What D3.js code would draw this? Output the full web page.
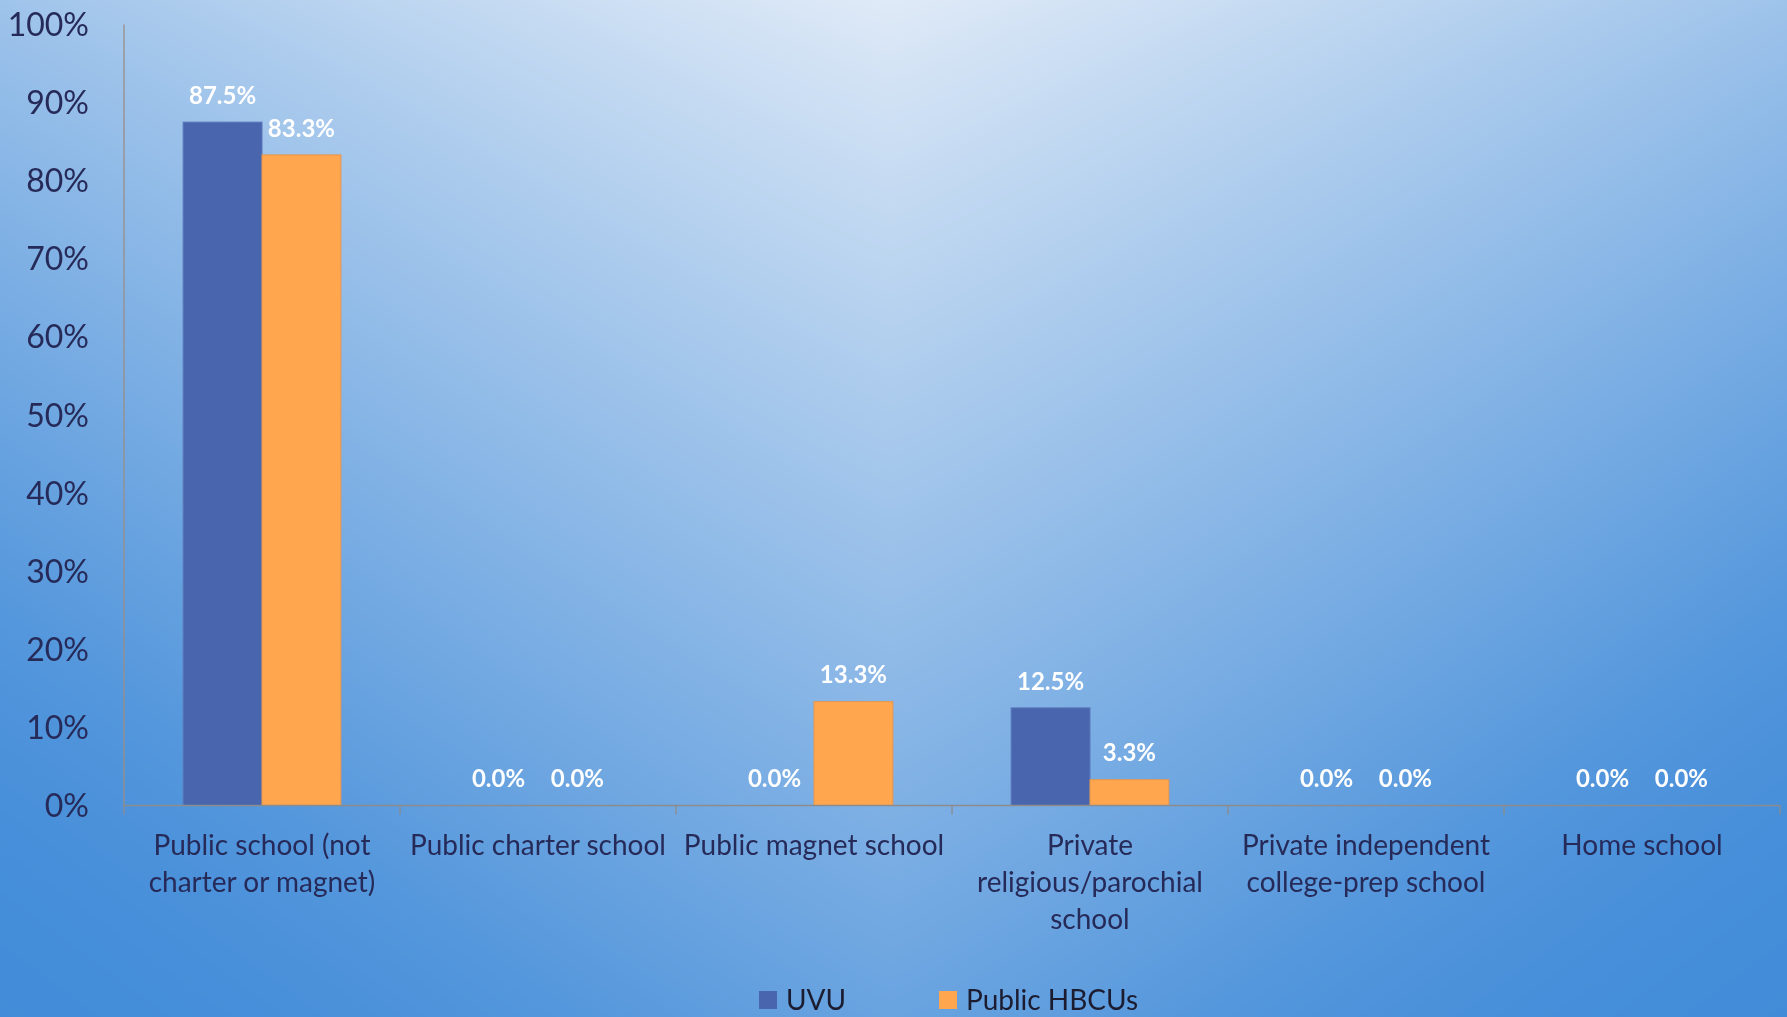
<!DOCTYPE html>
<html>
<head>
<meta charset="utf-8">
<script src="https://cdn.jsdelivr.net/npm/d3@7"></script>
<style>
  html, body { margin: 0; padding: 0; overflow: hidden; }
  #wrap { position: relative; width: 1787px; height: 1017px; }
  #bg, #chart { position: absolute; left: 0; top: 0; }
  text { font-family: Lato, "Open Sans", sans-serif; }
</style>
</head>
<body>
<div id="wrap">
  <canvas id="bg" width="1787" height="1017"></canvas>
  <svg id="chart" width="1787" height="1017"></svg>
</div>
<script>
// School types and the share of students coming from each
const categories = [
  "Public school (not charter or magnet)",
  "Public charter school",
  "Public magnet school",
  "Private religious/parochial school",
  "Private independent college-prep school",
  "Home school"
];
const categoryLines = [
  ["Public school (not", "charter or magnet)"],
  ["Public charter school"],
  ["Public magnet school"],
  ["Private", "religious/parochial", "school"],
  ["Private independent", "college-prep school"],
  ["Home school"]
];
const seriesNames = ["UVU", "Public HBCUs"];
const uvuValues = [0.875, 0.0, 0.0, 0.125, 0.0, 0.0];
const hbcuValues = [0.833, 0.0, 0.133, 0.033, 0.0, 0.0];
const yTicks = [0, 0.1, 0.2, 0.3, 0.4, 0.5, 0.6, 0.7, 0.8, 0.9, 1.0];
const seriesColors = ["#4865ad", "#ffa64f"];
const seriesStroke = ["#5a78bb", "#e8964a"];

const W = 1787, H = 1017;

// Soft light spot at the top centre fading to a deeper blue toward the edges
(function paintBackground() {
  const cv = document.getElementById("bg");
  const ctx = cv.getContext("2d");
  const img = ctx.createImageData(W, H);
  const c0 = [223, 234, 247], c1 = [58, 135, 215];
  const cx = 890;
  for (let y = 0; y < H; y++) {
    const b = 0.32 * Math.pow(y / 415, 0.9);
    for (let x = 0; x < W; x++) {
      const a = 0.39 * Math.pow(Math.abs(x - cx) / 897, 1.1);
      let s = a + b;
      if (s > 0.8) s = 0.8 + 0.2 * (1 - Math.exp(-(s - 0.8) / 0.2));
      const i = (y * W + x) * 4;
      img.data[i] = c0[0] + (c1[0] - c0[0]) * s;
      img.data[i + 1] = c0[1] + (c1[1] - c0[1]) * s;
      img.data[i + 2] = c0[2] + (c1[2] - c0[2]) * s;
      img.data[i + 3] = 255;
    }
  }
  ctx.putImageData(img, 0, 0);
})();

const svg = d3.select("#chart");
const plot = { left: 124, right: 1780, top: 24.5, bottom: 805.5 };

const x = d3.scaleBand().domain(categories).range([plot.left, plot.right]).padding(0);
const xInner = d3.scaleBand().domain(seriesNames).range([0, x.bandwidth()]).paddingInner(0).paddingOuter(0.75);
const y = d3.scaleLinear().domain([0, 1]).range([plot.bottom, plot.top]);

const rows = categories.map((c, i) => ({ cat: c, vals: [uvuValues[i], hbcuValues[i]] }));

// Y axis line
svg.append("line")
  .attr("x1", plot.left).attr("x2", plot.left)
  .attr("y1", plot.top).attr("y2", plot.bottom)
  .attr("stroke", "#9a8e88").attr("stroke-width", 1.3);

// Y tick labels
svg.append("g").selectAll("text").data(yTicks).join("text")
  .attr("x", 89).attr("y", d => y(d))
  .attr("dy", "0.36em")
  .attr("text-anchor", "end")
  .attr("font-size", 32)
  .attr("fill", "#262a58")
  .text(d => d3.format(".0%")(d));

// Bars
const groups = svg.append("g").selectAll("g").data(rows).join("g")
  .attr("transform", d => `translate(${x(d.cat)},0)`);

groups.selectAll("rect").data(d => d.vals.map((v, j) => ({ v, s: seriesNames[j], j })))
  .join("rect")
  .attr("x", d => xInner(d.s))
  .attr("width", xInner.bandwidth())
  .attr("y", d => y(d.v))
  .attr("height", d => y(0) - y(d.v))
  .attr("fill", d => seriesColors[d.j])
  .attr("stroke", d => d.v > 0 ? seriesStroke[d.j] : "none")
  .attr("stroke-width", 1);

// Value labels
groups.selectAll("text.val").data(d => d.vals.map((v, j) => ({ v, s: seriesNames[j], j })))
  .join("text").attr("class", "val")
  .attr("x", d => xInner(d.s) + xInner.bandwidth() / 2)
  .attr("y", d => y(d.v) - 27)
  .attr("dy", "0.36em")
  .attr("text-anchor", "middle")
  .attr("font-size", 24)
  .attr("font-weight", 700)
  .attr("fill", "#ffffff")
  .text(d => d3.format(".1%")(d.v));

// X axis line and category boundary ticks
svg.append("line")
  .attr("x1", plot.left).attr("x2", plot.right)
  .attr("y1", plot.bottom).attr("y2", plot.bottom)
  .attr("stroke", "#8c8c8c").attr("stroke-width", 1.5);
const bounds = categories.map(c => x(c)).concat([plot.right]);
svg.append("g").selectAll("line").data(bounds).join("line")
  .attr("x1", d => d).attr("x2", d => d)
  .attr("y1", plot.bottom).attr("y2", plot.bottom + 9)
  .attr("stroke", "#8c8c8c").attr("stroke-width", 1.3);

// Category labels
const lab = svg.append("g").selectAll("text").data(categories).join("text")
  .attr("text-anchor", "middle")
  .attr("font-size", 28)
  .attr("fill", "#262a58");
lab.each(function (c, i) {
  d3.select(this).selectAll("tspan").data(categoryLines[i]).join("tspan")
    .attr("x", x(c) + x.bandwidth() / 2)
    .attr("y", (d, k) => 844.5 + k * 37)
    .attr("dy", "0.36em")
    .text(d => d);
});

// Legend
const legendX = [759, 939];
const leg = svg.append("g").selectAll("g").data(seriesNames).join("g")
  .attr("transform", (d, i) => `translate(${legendX[i]},1000)`);
leg.append("rect")
  .attr("x", 0).attr("y", -9).attr("width", 18).attr("height", 18)
  .attr("fill", (d, i) => seriesColors[i]);
leg.append("text")
  .attr("x", 27).attr("y", 0).attr("dy", "0.36em")
  .attr("font-size", 28)
  .attr("fill", "#1c1c30")
  .text(d => d);
</script>
</body>
</html>
